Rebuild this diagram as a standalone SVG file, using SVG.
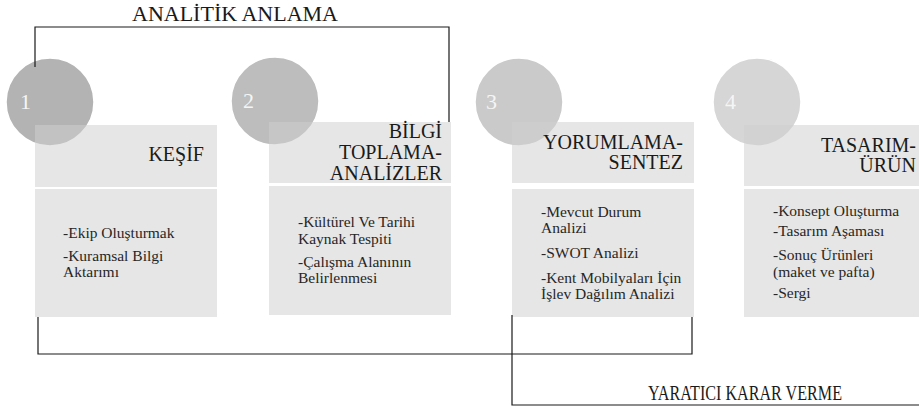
<svg xmlns="http://www.w3.org/2000/svg" width="919" height="409" viewBox="0 0 919 409" font-family="Liberation Serif, DejaVu Serif, Noto Serif, Times New Roman, serif">
<style>
.body{fill:#e6e6e6}
.head{fill:#cfcfcf;fill-opacity:0.52}
.circ{stroke:#ffffff;stroke-width:1.5}
.num{font-size:22px;fill:#f5f5f5}
.ht{font-size:20px;fill:#1a1a1a;text-anchor:end}
.bt{font-size:15.5px;fill:#262626}
.big{font-size:20px;fill:#1a1a1a}
.conn{fill:none;stroke:#1a1a1a;stroke-width:1.2}
</style>
<text class="big" x="132" y="21" textLength="206" lengthAdjust="spacingAndGlyphs">ANALİTİK ANLAMA</text>
<text class="big" x="648" y="400" textLength="194" lengthAdjust="spacingAndGlyphs">YARATICI KARAR VERME</text>

<g id="node1">
<rect class="body" x="35" y="189" width="182" height="128"/>
<circle class="circ" cx="50" cy="102" r="44" fill="#b3b3b3"/>
<rect class="head" x="35" y="125" width="182" height="62"/>
<text class="num" x="20" y="109">1</text>
<text class="ht" x="204" y="161">KEŞİF</text>
<text class="bt" x="63" y="238">-Ekip Oluşturmak</text>
<text class="bt" x="63" y="261">-Kuramsal Bilgi</text>
<text class="bt" x="63" y="277">Aktarımı</text>
</g>

<g id="node2">
<rect class="body" x="269" y="186" width="182" height="129"/>
<circle class="circ" cx="275" cy="101" r="44" fill="#bdbdbd"/>
<rect class="head" x="269" y="122" width="182" height="61"/>
<text class="num" x="243" y="108">2</text>
<text class="ht" x="442" y="138">BİLGİ</text>
<text class="ht" x="442" y="159">TOPLAMA-</text>
<text class="ht" x="442" y="180">ANALİZLER</text>
<text class="bt" x="298" y="227">-Kültürel Ve Tarihi</text>
<text class="bt" x="298" y="244">Kaynak Tespiti</text>
<text class="bt" x="298" y="267">-Çalışma Alanının</text>
<text class="bt" x="298" y="283">Belirlenmesi</text>
</g>

<g id="node3">
<rect class="body" x="512" y="189" width="182" height="128"/>
<circle class="circ" cx="519" cy="102" r="44" fill="#cacaca"/>
<rect class="head" x="512" y="122" width="182" height="61"/>
<text class="num" x="486" y="109">3</text>
<text class="ht" x="683" y="149">YORUMLAMA-</text>
<text class="ht" x="683" y="169">SENTEZ</text>
<text class="bt" x="541" y="217">-Mevcut Durum</text>
<text class="bt" x="541" y="233">Analizi</text>
<text class="bt" x="541" y="258">-SWOT Analizi</text>
<text class="bt" x="541" y="283">-Kent Mobilyaları İçin</text>
<text class="bt" x="541" y="299">İşlev Dağılım Analizi</text>
</g>

<g id="node4">
<rect class="body" x="744" y="189" width="180" height="128"/>
<circle class="circ" cx="757" cy="102" r="44" fill="#d6d6d6"/>
<rect class="head" x="744" y="125" width="180" height="61"/>
<text class="num" x="725" y="109">4</text>
<text class="ht" x="916" y="152">TASARIM-</text>
<text class="ht" x="916" y="172">ÜRÜN</text>
<text class="bt" x="773" y="216">-Konsept Oluşturma</text>
<text class="bt" x="773" y="236">-Tasarım Aşaması</text>
<text class="bt" x="773" y="260">-Sonuç Ürünleri</text>
<text class="bt" x="773" y="277">(maket ve pafta)</text>
<text class="bt" x="773" y="298">-Sergi</text>
</g>

<g id="connectors">
<path class="conn" d="M35 67 V27 H449 V122"/>
<path class="conn" d="M38 317 V354 H692 V317"/>
<path class="conn" d="M512 315 V405 H919"/>
</g>
</svg>
